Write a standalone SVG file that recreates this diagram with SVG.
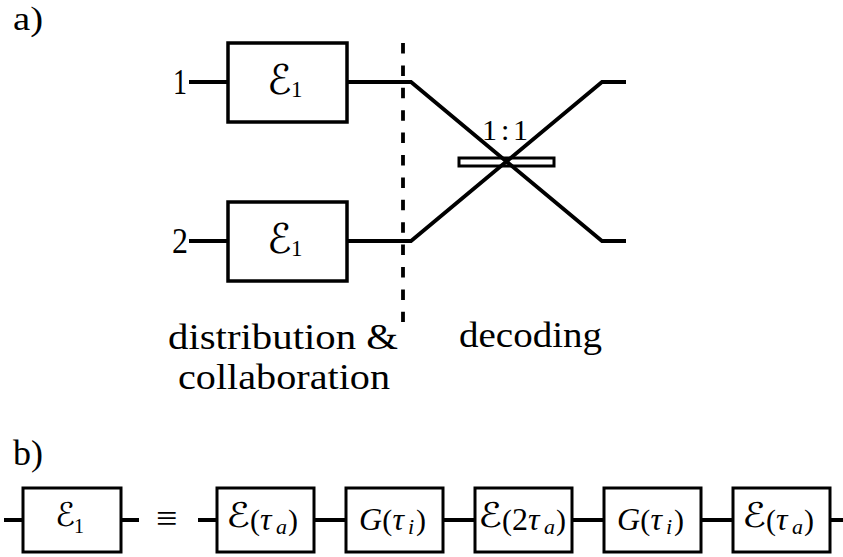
<svg xmlns="http://www.w3.org/2000/svg" width="843" height="557" viewBox="0 0 843 557">
<style>
text{font-family:"Liberation Serif","DejaVu Serif",serif;fill:#000}
.l{font-size:36px}
.m{font-size:32px}
.p{font-size:30px}
.s{font-size:23px}
.u{font-size:22px;font-style:italic}
.e{font-family:"DejaVu Sans","Noto Sans",sans-serif;font-size:41px}
.eb{font-family:"DejaVu Sans","Noto Sans",sans-serif;font-size:34px}
.i{font-style:italic}
.box{fill:#fff;stroke:#000;stroke-width:3.5}
.boxb{fill:#fff;stroke:#000;stroke-width:3}
.ln{fill:none;stroke:#000;stroke-width:3.8}
</style>
<rect width="843" height="557" fill="#fff"/>
<text x="13" y="30" style="font-size:34px" textLength="30" lengthAdjust="spacingAndGlyphs">a)</text>
<text class="l" x="13" y="465" textLength="30" lengthAdjust="spacingAndGlyphs">b)</text>
<g id="connectors">
<path class="ln" d="M189 82H228M347 82H411L602 241H626M189 241H228M347 241H411L602 82H626"/>
<path class="ln" d="M403 43V322" stroke-dasharray="10.5 11.9"/>
<path class="ln" d="M4 520H23M121 520H139M198 520H217M314 520H346M443 520H475M572 520H604M701 520H733M830 520H843"/>
</g>
<g id="beamsplitter">
<rect x="459" y="158" width="95" height="8" fill="none" stroke="#000" stroke-width="3"/>
<text class="m" y="140" style="font-size:30px"><tspan x="482">1</tspan><tspan x="501">:</tspan><tspan x="513">1</tspan></text>
</g>
<g id="input-1"><text class="l" x="173" y="94" textLength="14" lengthAdjust="spacingAndGlyphs">1</text></g>
<g id="input-2"><text class="l" x="172" y="253" textLength="16" lengthAdjust="spacingAndGlyphs">2</text></g>
<g id="e1-top">
<rect class="box" x="228" y="43" width="119" height="79"/>
<text class="e" x="267" y="94">ℰ<tspan class="s" x="291" y="97" style="font-family:'Liberation Serif'">1</tspan></text>
</g>
<g id="e1-bottom">
<rect class="box" x="228" y="202" width="119" height="79"/>
<text class="e" x="267" y="253">ℰ<tspan class="s" x="291" y="256" style="font-family:'Liberation Serif'">1</tspan></text>
</g>
<g id="label-distribution">
<text class="l" x="168" y="349" textLength="230" lengthAdjust="spacingAndGlyphs">distribution &amp;</text>
<text class="l" x="178" y="389" textLength="212" lengthAdjust="spacingAndGlyphs">collaboration</text>
</g>
<g id="label-decoding"><text class="l" x="459" y="347" textLength="143" lengthAdjust="spacingAndGlyphs">decoding</text></g>
<g id="b-e1">
<rect class="boxb" x="23" y="488" width="98" height="64"/>
<text class="eb" x="55" y="526" style="font-size:33px">ℰ<tspan x="74" y="533" style="font-family:'Liberation Serif';font-size:20px">1</tspan></text>
</g>
<text x="156" y="531" style="font-size:38px">≡</text>
<g id="b-e-tau-1">
<rect class="boxb" x="217" y="488" width="97" height="64"/>
<text class="eb" x="226" y="527" textLength="24" lengthAdjust="spacingAndGlyphs">ℰ</text>
<text class="m" y="530"><tspan class="p" x="250" y="530">(</tspan><tspan class="i" x="260">τ</tspan><tspan class="u" x="276" y="534">a</tspan><tspan class="p" x="288" y="530">)</tspan></text>
</g>
<g id="b-g-1">
<rect class="boxb" x="346" y="488" width="97" height="64"/>
<text class="m" y="530"><tspan class="i" x="359">G</tspan><tspan class="p" x="382.2">(</tspan><tspan class="i" x="392.5">τ</tspan><tspan class="u" x="408" y="534">i</tspan><tspan class="p" x="416" y="530">)</tspan></text>
</g>
<g id="b-e-2tau">
<rect class="boxb" x="475" y="488" width="97" height="64"/>
<text class="eb" x="478" y="527" textLength="24" lengthAdjust="spacingAndGlyphs">ℰ</text>
<text class="m" y="530"><tspan class="p" x="502" y="530">(</tspan><tspan x="512">2</tspan><tspan class="i" x="528">τ</tspan><tspan class="u" x="544" y="534">a</tspan><tspan class="p" x="556" y="530">)</tspan></text>
</g>
<g id="b-g-2">
<rect class="boxb" x="604" y="488" width="97" height="64"/>
<text class="m" y="530"><tspan class="i" x="617">G</tspan><tspan class="p" x="640.2">(</tspan><tspan class="i" x="650.5">τ</tspan><tspan class="u" x="666" y="534">i</tspan><tspan class="p" x="674" y="530">)</tspan></text>
</g>
<g id="b-e-tau-2">
<rect class="boxb" x="733" y="488" width="97" height="64"/>
<text class="eb" x="742" y="527" textLength="24" lengthAdjust="spacingAndGlyphs">ℰ</text>
<text class="m" y="530"><tspan class="p" x="766" y="530">(</tspan><tspan class="i" x="776">τ</tspan><tspan class="u" x="792" y="534">a</tspan><tspan class="p" x="804" y="530">)</tspan></text>
</g>
</svg>
